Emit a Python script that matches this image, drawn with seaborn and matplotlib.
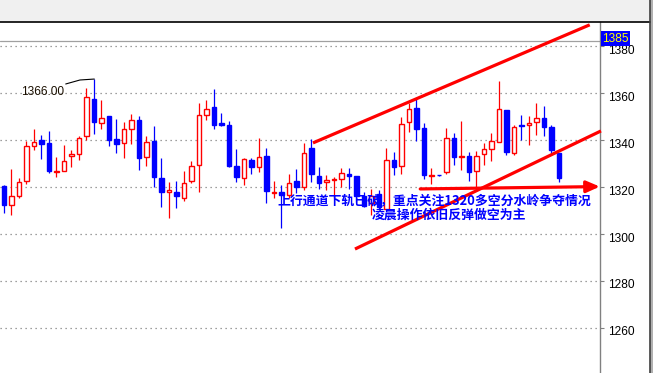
import numpy as np
import pandas as pd
import matplotlib
matplotlib.use("Agg")
import matplotlib.pyplot as plt
import matplotlib.transforms as mtransforms
from matplotlib.lines import Line2D
from matplotlib.patches import Rectangle
import seaborn as sns

# ---------------- data ----------------
opens = [1320.3, 1312.3, 1316.3, 1322.7, 1337.3, 1340.0, 1338.7, 1326.6, 1327.0, 1333.3,
         1333.9, 1341.9, 1357.6, 1347.4, 1350.1, 1340.4, 1338.6, 1344.9, 1348.4, 1333.0,
         1339.6, 1323.7, 1317.9, 1317.7, 1315.4, 1322.7, 1329.6, 1350.6, 1354.1, 1347.3,
         1346.4, 1328.9, 1323.9, 1331.4, 1328.6, 1333.1, 1317.4, 1317.7, 1316.7, 1322.4,
         1320.0, 1336.6, 1324.9, 1322.0, 1323.1, 1323.6, 1325.7, 1324.6, 1316.4, 1313.0,
         1317.1, 1310.7, 1331.7, 1329.0, 1347.6, 1353.7, 1345.0, 1324.9, 1325.1, 1326.6,
         1340.7, 1332.6, 1333.1, 1326.7, 1333.9, 1336.3, 1339.4, 1353.0, 1334.6, 1346.4,
         1346.4, 1347.6, 1349.4, 1345.6, 1334.6]
highs = [1321.0, 1327.6, 1323.9, 1339.7, 1344.7, 1342.0, 1343.7, 1333.0, 1337.7, 1335.7,
         1341.9, 1362.1, 1366.0, 1357.0, 1350.1, 1349.0, 1347.9, 1351.3, 1350.3, 1341.9,
         1346.0, 1332.3, 1322.0, 1322.4, 1326.7, 1331.0, 1356.0, 1357.1, 1361.9, 1351.7,
         1348.1, 1336.1, 1332.3, 1332.3, 1340.9, 1336.6, 1322.4, 1321.0, 1325.4, 1327.6,
         1338.7, 1340.3, 1328.6, 1325.0, 1324.3, 1328.3, 1328.0, 1324.6, 1317.9, 1319.3,
         1318.6, 1336.6, 1335.1, 1350.0, 1355.7, 1357.7, 1347.4, 1328.3, 1325.2, 1345.0,
         1342.9, 1348.1, 1335.1, 1335.3, 1338.6, 1342.9, 1365.3, 1353.0, 1346.4, 1350.9,
         1350.3, 1355.9, 1354.6, 1346.4, 1334.6]
lows = [1308.9, 1308.0, 1315.4, 1321.3, 1335.7, 1331.9, 1326.0, 1324.3, 1326.7, 1328.6,
        1331.4, 1339.9, 1342.7, 1344.9, 1337.6, 1334.4, 1332.4, 1338.4, 1327.4, 1329.0,
        1320.0, 1311.4, 1306.7, 1311.0, 1314.0, 1321.7, 1317.9, 1348.7, 1344.9, 1346.1,
        1328.4, 1322.1, 1320.9, 1325.6, 1326.4, 1313.1, 1315.3, 1302.7, 1315.3, 1317.3,
        1318.9, 1322.1, 1319.1, 1318.9, 1315.3, 1320.0, 1319.3, 1313.6, 1311.4, 1307.9,
        1310.7, 1310.7, 1325.1, 1325.7, 1343.3, 1339.7, 1323.3, 1321.1, 1324.9, 1325.6,
        1329.3, 1327.1, 1322.6, 1319.3, 1329.3, 1331.1, 1339.4, 1333.6, 1333.6, 1340.0,
        1337.9, 1342.1, 1341.7, 1334.7, 1322.1]
closes = [1312.3, 1316.0, 1322.3, 1337.3, 1339.4, 1338.4, 1326.9, 1326.9, 1331.3, 1334.0,
          1341.1, 1358.3, 1347.9, 1349.3, 1340.0, 1338.4, 1344.6, 1348.4, 1332.4, 1339.1,
          1324.3, 1318.0, 1318.6, 1316.1, 1321.9, 1329.1, 1350.6, 1353.1, 1346.6, 1346.6,
          1328.9, 1324.3, 1331.9, 1328.6, 1333.0, 1318.3, 1317.7, 1316.6, 1321.9, 1320.0,
          1334.7, 1325.7, 1321.7, 1322.9, 1323.4, 1326.1, 1324.7, 1316.4, 1312.1, 1316.0,
          1311.4, 1331.7, 1328.6, 1346.7, 1353.4, 1344.9, 1325.1, 1325.1, 1325.0, 1341.1,
          1332.6, 1333.1, 1326.4, 1333.4, 1336.0, 1339.6, 1353.1, 1335.0, 1345.4, 1345.9,
          1347.3, 1349.3, 1345.7, 1335.7, 1323.9]

y_ticks = [1260, 1280, 1300, 1320, 1340, 1360, 1380]
last_price_label = "1385"
peak_label = "1366.00"
note_line1 = "上行通道下轨已破，重点关注1320多空分水岭争夺情况"
note_line2 = "凌晨操作依旧反弹做空为主"

# channel / arrow annotations (candle index, price)
upper_channel_x = [41.2, 78.1]
upper_channel_y = [1338.8, 1389.1]
lower_channel_x = [46.8, 79.6]
lower_channel_y = [1293.6, 1343.9]
arrow_x = [55.5, 79.45]
arrow_y = [1319.2, 1320.2]

# ---------------- style ----------------
sns.set_style("white")
plt.rcParams['font.family'] = ['Liberation Sans', 'DejaVu Sans']

W, H = 653, 373
fig = plt.figure(figsize=(W / 100, H / 100), dpi=100)
fig.patch.set_facecolor('white')

TOP = 22
ax = fig.add_axes([0, 0, 600 / W, 1 - TOP / H])
ax.set_facecolor('white')

df = pd.DataFrame({'idx': np.arange(len(opens)), 'open': opens, 'high': highs,
                   'low': lows, 'close': closes})
df['up'] = df['close'] >= df['open']
RED, BLUE = '#ff0000', '#0000ff'
df['color'] = np.where(df['up'], RED, BLUE)

# wicks
ax.vlines(df['idx'], df['low'], df['high'], colors=df['color'], lw=0.9, zorder=2)
# bodies
body_bottom = np.minimum(df['open'], df['close'])
body_h = np.maximum(np.abs(df['close'] - df['open']), 0.15)
face = np.where(df['up'], 'white', BLUE)
ax.bar(df['idx'], body_h, bottom=body_bottom, width=0.55, color=face,
       edgecolor=df['color'], linewidth=1.0, zorder=3)

# axes limits
ax.set_xlim(-0.533, 79.47)
ax.set_ylim(1240.8, 1390.3)

# grid + ticks
ax.set_yticks(y_ticks)
ax.yaxis.tick_right()
ax.set_xticks([])
ax.yaxis.grid(True, linestyle=(0, (1, 3)), color='#808080', lw=0.9)
ax.xaxis.grid(False)
ax.tick_params(axis='y', direction='out', length=3, width=0.8, color='#808080',
               pad=3, labelsize=8.6, labelcolor='black')
off = mtransforms.ScaledTranslation(0, -3 / 100, fig.dpi_scale_trans)
for lab in ax.get_yticklabels():
    lab.set_transform(lab.get_transform() + off)
for s in ['top', 'left', 'bottom']:
    ax.spines[s].set_visible(False)
ax.spines['right'].set_color('#808080')
ax.spines['right'].set_linewidth(1.0)

# current price line
ax.axhline(1382.4, color='#a0a0a0', lw=0.9, zorder=1)

# peak annotation
pk = int(np.argmax(highs))
ax.plot([8.23, 10.13, pk + 0.04], [1363.9, 1365.6, highs[pk]], color='black', lw=0.8, zorder=4)
ax.text(7.95, 1360.4, peak_label, ha='right', va='center', color='#1a0f00',
        fontsize=8.6, zorder=5)

# channel lines
ax.plot(upper_channel_x, upper_channel_y, color=RED, lw=2.3, solid_capstyle='butt', zorder=6,
        clip_on=False)
ax.plot(lower_channel_x, lower_channel_y, color=RED, lw=2.3, solid_capstyle='butt', zorder=6,
        clip_on=False)
ax.annotate('', xy=(arrow_x[1], arrow_y[1]), xytext=(arrow_x[0], arrow_y[0]),
            arrowprops=dict(arrowstyle='-|>,head_length=0.8,head_width=0.35', color=RED,
                            lw=2.3, shrinkA=0, shrinkB=0),
            zorder=6, annotation_clip=False)

# notes
cjk = ['Noto Sans CJK SC', 'DejaVu Sans']
ax.text(36.5, 1314.2, note_line1, ha='left', va='center', color='#0000ff', fontsize=9.3,
        fontweight='bold', family=cjk, zorder=7)
ax.text(49.0, 1308.1, note_line2, ha='left', va='center', color='#0000ff', fontsize=9.3,
        fontweight='bold', family=cjk, zorder=7)

# last price box
ax.annotate(last_price_label, xy=(1.0, 1383.1), xycoords=('axes fraction', 'data'),
            xytext=(1.6, 0), textcoords='offset points', ha='left', va='center',
            color='#ffff00', fontsize=8.6, annotation_clip=False,
            bbox=dict(boxstyle='square,pad=0.12', fc='#0000ff', ec='none'), zorder=8)

# window chrome
fig.add_artist(Rectangle((0, 1 - TOP / H), 1, TOP / H, transform=fig.transFigure,
                         facecolor='#f0f0f0', edgecolor='none', zorder=0))
fig.add_artist(Line2D([0, 650 / W], [1 - TOP / H, 1 - TOP / H], transform=fig.transFigure,
                      color='black', lw=1.2))
fig.add_artist(Rectangle((650 / W, 0), 3 / W, 1, transform=fig.transFigure,
                         facecolor='#b0b0b0', edgecolor='none', zorder=0))
fig.add_artist(Line2D([650 / W, 650 / W], [0, 1], transform=fig.transFigure,
                      color='#404040', lw=1.2))

fig.savefig('out.png', dpi=100)
